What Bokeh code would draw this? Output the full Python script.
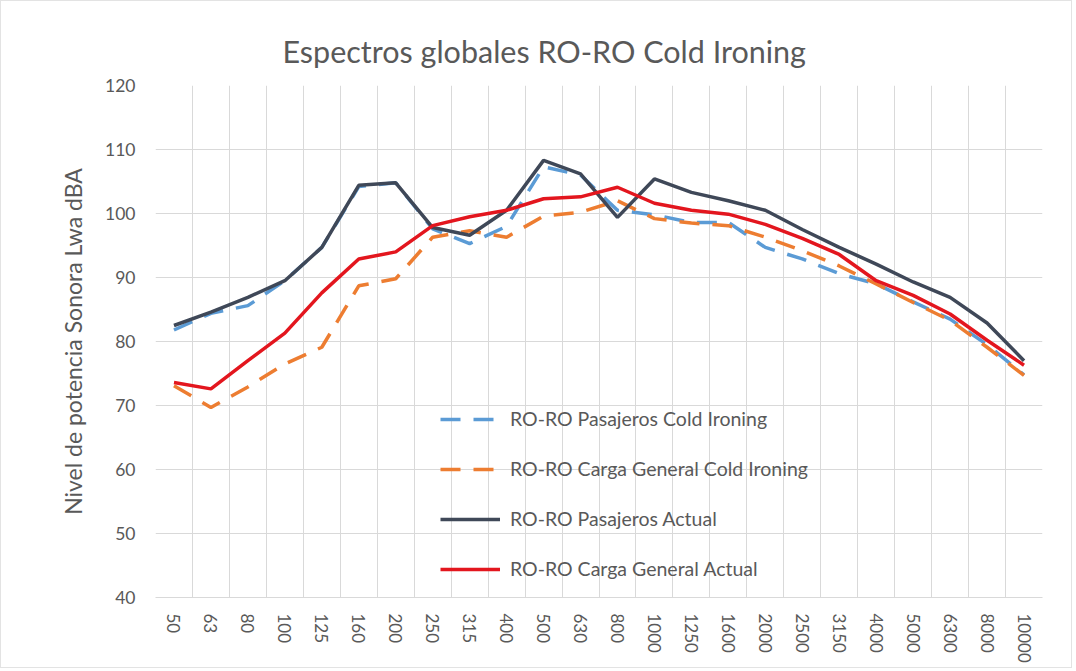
from bokeh.plotting import figure
from bokeh.models import FixedTicker, Range1d, Legend, LegendItem
from bokeh.embed import file_html
from bokeh.resources import INLINE

categories = ["50", "63", "80", "100", "125", "160", "200", "250", "315", "400", "500", "630",
              "800", "1000", "1250", "1600", "2000", "2500", "3150", "4000", "5000", "6300",
              "8000", "10000"]

pasajeros_cold = [81.8, 84.4, 85.6, 89.5, 94.7, 104.2, 104.8, 97.6, 95.3, 98.0, 107.3, 106.0,
                  100.5, 99.8, 98.6, 98.6, 94.7, 92.9, 90.6, 89.0, 86.2, 83.5, 79.5, 74.8]
carga_cold = [73.1, 69.7, 72.9, 76.5, 79.1, 88.7, 89.8, 96.3, 97.3, 96.3, 99.6, 100.2,
              102.0, 99.2, 98.5, 98.1, 96.3, 94.2, 91.8, 89.0, 86.1, 83.3, 79.1, 74.7]
pasajeros_actual = [82.5, 84.6, 86.9, 89.5, 94.7, 104.4, 104.8, 97.8, 96.6, 100.5, 108.3, 106.2,
                    99.4, 105.4, 103.3, 102.0, 100.5, 97.5, 94.7, 92.1, 89.3, 86.9, 82.9, 77.0]
carga_actual = [73.6, 72.6, 77.0, 81.3, 87.6, 92.9, 94.0, 98.1, 99.5, 100.5, 102.3, 102.6,
                104.1, 101.6, 100.5, 99.9, 98.3, 96.1, 93.6, 89.5, 87.2, 84.3, 80.2, 76.3]

series_names = ["RO-RO Pasajeros Cold Ironing", "RO-RO Carga General Cold Ironing",
                "RO-RO Pasajeros Actual", "RO-RO Carga General Actual"]
y_ticks = [40, 50, 60, 70, 80, 90, 100, 110, 120]

FONT = "Lato"
TXT = "#595959"
GRID = "#d9d9d9"

n = len(categories)
xs = list(range(n))

p = figure(width=1072, height=668, output_backend="svg", toolbar_location=None,
           x_range=Range1d(-0.5, n - 0.5), y_range=Range1d(y_ticks[0], y_ticks[-1]),
           min_border_left=154, min_border_right=31, min_border_top=84, min_border_bottom=72)
p.outline_line_color = None
p.background_fill_color = "white"
p.border_fill_color = "white"
p.styles = {"border": "1px solid #e3e3e3"}

p.title.text = "Espectros globales  RO-RO Cold Ironing"
p.title.align = "left"
p.title.offset = 127
p.title.text_font = FONT
p.title.text_font_size = "30.5px"
p.title.text_font_style = "normal"
p.title.text_color = TXT
p.title.standoff = 33

# axes
p.xaxis.ticker = FixedTicker(ticks=xs)
p.xaxis.major_label_overrides = {i: c for i, c in enumerate(categories)}
p.xaxis.major_label_orientation = "vertical"
p.xaxis.major_label_text_font = FONT
p.xaxis.major_label_text_font_size = "17px"
p.xaxis.major_label_text_color = TXT
p.xaxis.major_tick_line_color = None
p.xaxis.minor_tick_line_color = None
p.xaxis.axis_line_color = GRID
p.xaxis.major_label_standoff = 10

p.yaxis.ticker = FixedTicker(ticks=y_ticks)
p.yaxis.major_label_text_font = FONT
p.yaxis.major_label_text_font_size = "17.5px"
p.yaxis.major_label_text_color = TXT
p.yaxis.major_tick_line_color = None
p.yaxis.minor_tick_line_color = None
p.yaxis.axis_line_color = None
p.yaxis.major_label_standoff = 14
p.yaxis.axis_label = "Nivel de potencia Sonora Lwa dBA"
p.yaxis.axis_label_text_font = FONT
p.yaxis.axis_label_text_font_size = "23px"
p.yaxis.axis_label_text_font_style = "normal"
p.yaxis.axis_label_text_color = TXT
p.yaxis.axis_label_standoff = 15

p.xgrid.ticker = FixedTicker(ticks=[i - 0.5 for i in range(n + 1)])
p.xgrid.grid_line_color = GRID
p.ygrid.grid_line_color = GRID

r1 = p.line(xs, pasajeros_cold, line_color="#5B9BD5", line_width=3.5, line_dash="20 13")
r2 = p.line(xs, carga_cold, line_color="#ED7D31", line_width=3.5, line_dash="20 13")
r3 = p.line(xs, pasajeros_actual, line_color="#3f4858", line_width=3.5)
r4 = p.line(xs, carga_actual, line_color="#E3161E", line_width=3.5)

legend = Legend(items=[LegendItem(label=series_names[0], renderers=[r1]),
                       LegendItem(label=series_names[1], renderers=[r2]),
                       LegendItem(label=series_names[2], renderers=[r3]),
                       LegendItem(label=series_names[3], renderers=[r4])],
                location=(285, 17))
legend.background_fill_alpha = 0
legend.border_line_color = None
legend.padding = 0
legend.margin = 0
legend.glyph_width = 60
legend.glyph_height = 20
legend.label_height = 20
legend.spacing = 27
legend.label_standoff = 10
legend.label_text_font = FONT
legend.label_text_font_size = "19.5px"
legend.label_text_color = TXT
p.add_layout(legend, "center")

open("out.html", "w").write(file_html(p, INLINE))
